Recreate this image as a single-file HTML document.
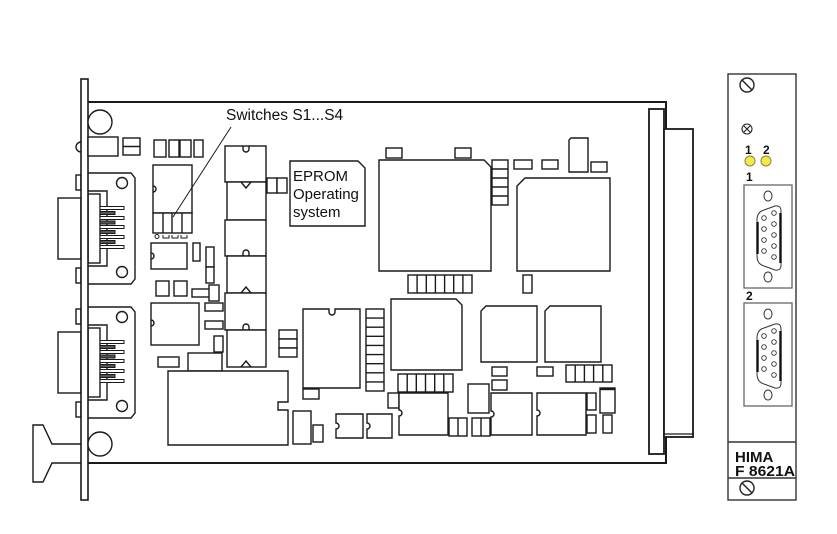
<!DOCTYPE html>
<html><head><meta charset="utf-8"><style>
html,body{margin:0;padding:0;background:#fff;}
svg{display:block;}
text{font-family:"Liberation Sans",Arial,sans-serif;fill:#111;}
</style></head><body>
<svg width="837" height="534" viewBox="0 0 837 534" xmlns="http://www.w3.org/2000/svg">
<rect x="0" y="0" width="837" height="534" fill="#fff"/>
<g fill="#fff" stroke="#1a1a1a" stroke-width="1.4">

<!-- board outline -->
<path d="M88,102 L666,102 L666,463 L88,463" fill="none" stroke-width="2"/>

<!-- right backplane connector -->
<rect x="649" y="109" width="15" height="345" stroke-width="1.8"/>
<rect x="664" y="129" width="29" height="308" stroke-width="1.8"/>
<line x1="664" y1="434" x2="693" y2="434" stroke-width="1.2"/>

<!-- handle -->
<path d="M81,444 L52,444 L43,425 L33,425 L33,482 L43,482 L52,463 L81,463"/>

<!-- top-left bump -->
<path d="M81,142 A5,5 0 0 0 81,152" fill="none"/>

<!-- left connector 1 -->
<g id="lc">
<rect x="76" y="175" width="5" height="15"/>
<rect x="76" y="268" width="5" height="15"/>
<rect x="58" y="198" width="23" height="61"/>
<path d="M88,173 L131,173 L135,178 L135,279 L131,284 L88,284"/>
<path d="M88,191 L107,191 L107,266 L88,266"/>
<rect x="88" y="194" width="12" height="69"/>
<g stroke-width="1">
<rect x="100" y="206.5" width="24" height="3"/>
<rect x="100" y="216.5" width="24" height="3"/>
<rect x="100" y="225.5" width="24" height="3"/>
<rect x="100" y="235.5" width="24" height="3"/>
<rect x="100" y="245.5" width="24" height="3"/>
<rect x="100" y="211.5" width="15" height="3" fill="#555"/>
<rect x="100" y="221" width="15" height="3" fill="#555"/>
<rect x="100" y="230.5" width="15" height="3" fill="#555"/>
<rect x="100" y="240.5" width="15" height="3" fill="#555"/>
</g>
<circle cx="122" cy="183" r="5.5"/>
<circle cx="122" cy="272" r="5.5"/>
</g>
<use href="#lc" transform="translate(0,134)"/>

<!-- panel bar -->
<rect x="81" y="79" width="7" height="421" stroke-width="1.6"/>

<!-- big circles -->
<circle cx="100" cy="122" r="12"/>
<circle cx="100" cy="444" r="12"/>

<!-- small parts upper-left -->
<rect x="88" y="137" width="30" height="19"/>
<rect x="123" y="138" width="17" height="17"/>
<line x1="123" y1="146.5" x2="140" y2="146.5"/>
<rect x="154" y="140" width="12" height="17"/>
<rect x="169" y="140" width="10" height="17"/>
<rect x="180" y="140" width="11" height="17"/>
<rect x="194" y="140" width="9" height="17"/>

<!-- DIP switch IC -->
<rect x="153" y="165" width="39" height="48"/>
<path d="M153,186 A3,3 0 0 1 153,192" fill="none"/>
<rect x="153" y="213" width="39" height="20"/>
<line x1="163" y1="213" x2="163" y2="233"/>
<line x1="172" y1="213" x2="172" y2="233"/>
<line x1="182" y1="213" x2="182" y2="233"/>
<g stroke-width="1">
<circle cx="157" cy="236.5" r="2"/>
<path d="M163,235 L163,238 L169,238 L169,235 M172,235 L172,238 L178,238 L178,235 M181,235 L181,238 L187,238 L187,235" fill="none"/>
</g>

<rect x="151" y="243" width="36" height="26"/>
<path d="M151,253 A3,3 0 0 1 151,259" fill="none"/>
<rect x="193" y="243" width="7" height="18"/>
<rect x="206" y="247" width="8" height="20"/>
<rect x="206" y="267" width="8" height="16"/>
<rect x="156" y="281" width="13" height="15"/>
<rect x="174" y="281" width="13" height="15"/>
<rect x="192" y="289" width="18" height="8"/>
<rect x="209" y="285" width="10" height="16"/>
<rect x="205" y="303" width="18" height="8"/>
<rect x="205" y="321" width="18" height="8"/>
<rect x="214" y="336" width="9" height="16"/>
<rect x="151" y="303" width="48" height="42"/>
<path d="M151,320 A3,3 0 0 1 151,326" fill="none"/>
<rect x="158" y="357" width="21" height="10"/>
<rect x="188" y="353" width="34" height="18"/>
<path d="M168,371 L288,371 L288,402 L278,402 L278,410 L288,410 L288,445 L168,445 Z"/>
<rect x="293" y="411" width="18" height="33"/>
<rect x="313" y="425" width="10" height="17"/>
<path d="M336,414 L363,414 L363,438 L336,438 L336,429 A3,3 0 0 0 336,423 Z"/>
<path d="M367,414 L392,414 L392,438 L367,438 L367,429 A3,3 0 0 0 367,423 Z"/>

<!-- memory column -->
<rect x="225" y="146" width="41" height="36"/>
<path d="M243,146 L243,149 A3,3 0 0 0 249,149 L249,146" fill="none"/>
<rect x="227" y="182" width="39" height="38"/>
<path d="M241,182 L246,188 L251,182" fill="none"/>
<rect x="225" y="220" width="41" height="36"/>
<path d="M243,256 L243,253 A3,3 0 0 1 249,253 L249,256" fill="none"/>
<rect x="227" y="256" width="39" height="37"/>
<path d="M241,293 L246,287 L251,293" fill="none"/>
<rect x="225" y="293" width="41" height="37"/>
<path d="M243,330 L243,327 A3,3 0 0 1 249,327 L249,330" fill="none"/>
<rect x="227" y="330" width="39" height="37"/>
<path d="M241,367 L246,361 L251,367" fill="none"/>

<rect x="267" y="178" width="10" height="15"/>
<rect x="277" y="178" width="10" height="15"/>

<!-- EPROM label box -->
<path d="M290,161 L358,161 L365,168 L365,226 L290,226 Z"/>

<rect x="279" y="330" width="18" height="9"/>
<rect x="279" y="339" width="18" height="9"/>
<rect x="279" y="348" width="18" height="9"/>
<path d="M303,309 L329,309 L329,312 A3,3 0 0 0 335,312 L335,309 L360,309 L360,388 L303,388 Z"/>
<rect x="303" y="389" width="16" height="10"/>
<rect x="366" y="309" width="18" height="82"/>
<path d="M366,318.1 H384 M366,327.2 H384 M366,336.3 H384 M366,345.4 H384 M366,354.6 H384 M366,363.7 H384 M366,372.8 H384 M366,381.9 H384" fill="none"/>

<!-- chip 1 -->
<path d="M379,160 L484,160 L491,167 L491,271 L379,271 Z"/>
<rect x="386" y="148" width="16" height="10"/>
<rect x="455" y="148" width="16" height="10"/>
<rect x="492" y="160" width="16" height="45"/>
<path d="M492,169 H508 M492,178 H508 M492,187 H508 M492,196 H508" fill="none"/>
<rect x="514" y="160" width="18" height="9"/>
<rect x="542" y="160" width="16" height="9"/>
<path d="M571,138 L588,138 L588,172 L569,172 L569,140 Z"/>
<rect x="591" y="162" width="16" height="10"/>
<!-- chip 2 -->
<path d="M525,178 L610,178 L610,271 L517,271 L517,186 Z"/>
<rect x="408" y="275" width="64" height="18"/>
<path d="M417.1,275 V293 M426.3,275 V293 M435.4,275 V293 M444.6,275 V293 M453.7,275 V293 M462.9,275 V293" fill="none"/>
<rect x="523" y="275" width="9" height="18"/>

<!-- chip 3 -->
<path d="M391,299 L456,299 L462,305 L462,370 L391,370 Z"/>
<path d="M486,306 L537,306 L537,362 L481,362 L481,311 Z"/>
<path d="M550,306 L601,306 L601,362 L545,362 L545,311 Z"/>
<rect x="398" y="374" width="55" height="18"/>
<path d="M407.2,374 V392 M416.3,374 V392 M425.5,374 V392 M434.7,374 V392 M443.8,374 V392" fill="none"/>
<rect x="492" y="367" width="15" height="9"/>
<rect x="492" y="380" width="15" height="10"/>
<rect x="537" y="367" width="16" height="9"/>
<rect x="566" y="365" width="46" height="17"/>
<path d="M575.2,365 V382 M584.4,365 V382 M593.6,365 V382 M602.8,365 V382" fill="none"/>
<rect x="388" y="393" width="11" height="15"/>
<path d="M399,393 L448,393 L448,435 L399,435 L399,416 A3,3 0 0 0 399,410 Z"/>
<rect x="449" y="418" width="18" height="18"/>
<line x1="458" y1="418" x2="458" y2="436"/>
<rect x="468" y="384" width="21" height="29"/>
<rect x="472" y="418" width="18" height="18"/>
<line x1="481" y1="418" x2="481" y2="436"/>
<path d="M491,393 L532,393 L532,435 L491,435 L491,417 A3,3 0 0 0 491,411 Z"/>
<path d="M537,393 L586,393 L586,435 L537,435 L537,416 A3,3 0 0 0 537,410 Z"/>
<rect x="587" y="393" width="9" height="17"/>
<rect x="587" y="415" width="9" height="18"/>
<rect x="600" y="388" width="15" height="25"/>
<line x1="600" y1="389" x2="615" y2="389" stroke-width="2.4"/>
<rect x="603" y="415" width="9" height="18"/>

<!-- leader line -->
<line x1="231" y1="127" x2="173" y2="217" stroke-width="1"/>
</g>

<!-- labels -->
<text x="226" y="120" font-size="15.5">Switches S1...S4</text>
<text x="293" y="181" font-size="15">EPROM</text>
<text x="293" y="199" font-size="15">Operating</text>
<text x="293" y="217" font-size="15">system</text>

<!-- front panel -->
<g fill="#fff" stroke="#333" stroke-width="1.4">
<rect x="728" y="74" width="68" height="426"/>
<line x1="728" y1="442" x2="796" y2="442"/>
<line x1="728" y1="478" x2="796" y2="478"/>
<circle cx="747" cy="85" r="7" stroke="#222"/>
<line x1="742" y1="80" x2="752" y2="90" stroke="#222"/>
<circle cx="747" cy="488" r="7" stroke="#222"/>
<line x1="742" y1="483" x2="752" y2="493" stroke="#222"/>
<circle cx="747" cy="129" r="5" stroke="#222" stroke-width="1.1"/>
<path d="M744,126 L750,132 M750,126 L744,132" stroke="#222" stroke-width="1.1"/>
<circle cx="750" cy="161" r="5" fill="#f3ea4a" stroke="#8a8440" stroke-width="1"/>
<circle cx="766" cy="161" r="5" fill="#f3ea4a" stroke="#8a8440" stroke-width="1"/>
<g id="fc">
<rect x="744" y="185" width="48" height="103" stroke="#666" stroke-width="1.3"/>
<ellipse cx="768" cy="196" rx="4" ry="5" stroke="#333" stroke-width="1"/>
<ellipse cx="768" cy="277" rx="4" ry="5" stroke="#333" stroke-width="1"/>
<path d="M757,220 Q757,212 764,210 L775,206 Q781,205 781,211 L781,265 Q781,271 775,270 L764,266 Q757,264 757,256 Z" stroke="#333" stroke-width="1"/>
<line x1="757.5" y1="222" x2="757.5" y2="254" stroke="#111" stroke-width="2.4"/>
<line x1="780.5" y1="213" x2="780.5" y2="263" stroke="#111" stroke-width="2.4"/>
<g stroke="#333" stroke-width="0.9">
<circle cx="764" cy="218" r="2.3"/><circle cx="764" cy="229" r="2.3"/><circle cx="764" cy="240" r="2.3"/><circle cx="764" cy="251" r="2.3"/>
<circle cx="774" cy="213" r="2.3"/><circle cx="774" cy="224" r="2.3"/><circle cx="774" cy="235" r="2.3"/><circle cx="774" cy="246" r="2.3"/><circle cx="774" cy="257" r="2.3"/>
</g>
</g>
<use href="#fc" transform="translate(0,118)"/>
</g>
<text x="745" y="154" font-size="12" font-weight="bold">1</text>
<text x="763" y="154" font-size="12" font-weight="bold">2</text>
<text x="746" y="181" font-size="12" font-weight="bold">1</text>
<text x="746" y="300" font-size="12" font-weight="bold">2</text>
<text x="735" y="462" font-size="15" font-weight="bold">HIMA</text>
<text x="735" y="476" font-size="15" font-weight="bold" textLength="60" lengthAdjust="spacingAndGlyphs">F 8621A</text>
</svg>
</body></html>
